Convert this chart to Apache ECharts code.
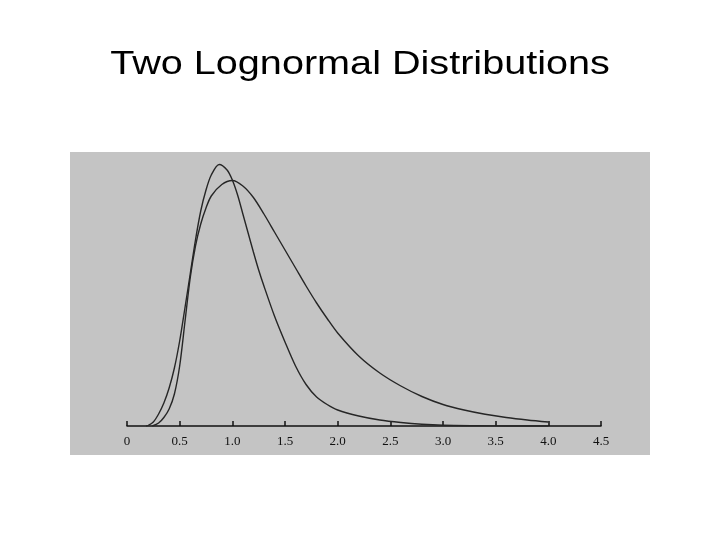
<!DOCTYPE html>
<html>
<head>
<meta charset="utf-8">
<script src="https://cdn.jsdelivr.net/npm/echarts@6/dist/echarts.min.js"></script>
<style>html,body{margin:0;padding:0;background:#fff}#c{width:720px;height:540px}</style>
</head>
<body>
<div id="c"></div>
<script>
const titleText = 'Two Lognormal Distributions';
const tickValues = [0, 0.5, 1.0, 1.5, 2.0, 2.5, 3.0, 3.5, 4.0, 4.5];
const tickLabels = ['0', '0.5', '1.0', '1.5', '2.0', '2.5', '3.0', '3.5', '4.0', '4.5'];

// Narrow (taller) lognormal curve
const narrowX = [0.18, 0.20, 0.25, 0.30, 0.35, 0.40, 0.45, 0.50, 0.55, 0.60, 0.65, 0.70, 0.75, 0.80, 0.875, 0.95, 1.00, 1.05, 1.10, 1.15, 1.20, 1.25, 1.30, 1.40, 1.50, 1.60, 1.70, 1.80, 1.90, 2.00, 2.20, 2.40, 2.60, 2.80, 3.00, 3.30, 3.60, 4.00];
const narrowY = [0, 0.002, 0.016, 0.048, 0.092, 0.152, 0.232, 0.34, 0.472, 0.608, 0.744, 0.86, 0.944, 1.004, 1.046, 1.024, 0.984, 0.924, 0.848, 0.772, 0.696, 0.624, 0.56, 0.44, 0.336, 0.24, 0.166, 0.116, 0.086, 0.064, 0.04, 0.024, 0.014, 0.007, 0.003, 0.001, 0, 0];

// Wide (long-tailed) lognormal curve
const wideX = [0.24, 0.30, 0.35, 0.40, 0.45, 0.50, 0.55, 0.60, 0.65, 0.70, 0.75, 0.80, 0.90, 1.00, 1.10, 1.20, 1.30, 1.40, 1.50, 1.60, 1.70, 1.80, 1.90, 2.00, 2.20, 2.40, 2.60, 2.80, 3.00, 3.20, 3.40, 3.60, 3.80, 4.00];
const wideY = [0, 0.012, 0.034, 0.068, 0.128, 0.24, 0.416, 0.592, 0.72, 0.808, 0.872, 0.92, 0.966, 0.982, 0.96, 0.914, 0.848, 0.776, 0.704, 0.632, 0.56, 0.492, 0.43, 0.372, 0.28, 0.212, 0.16, 0.118, 0.086, 0.064, 0.047, 0.034, 0.024, 0.016];

const chart = echarts.init(document.getElementById('c'), null, {renderer: 'canvas'});
const lineStyle = {color: '#262626', width: 1.4};
chart.setOption({
  backgroundColor: '#ffffff',
  animation: false,
  graphic: [
    {type: 'rect', z: -10, shape: {x: 70, y: 152, width: 580, height: 303}, style: {fill: '#c4c4c4'}},
    {type: 'text', x: 360, y: 65, scaleX: 1.165, z: 10,
     style: {text: titleText, fontSize: 34, fontFamily: 'Liberation Sans, Arial, sans-serif', fill: '#000', textAlign: 'center', textVerticalAlign: 'middle', verticalAlign: 'middle'}}
  ],
  grid: {left: 127, right: 119, top: 126, bottom: 114},
  xAxis: {
    type: 'value', min: 0, max: 4.5, interval: 0.5,
    axisLine: {show: true, lineStyle: {color: '#111', width: 1.5}},
    axisTick: {show: true, inside: true, length: 5, lineStyle: {color: '#111', width: 1.5}},
    axisLabel: {
      show: true, margin: 9, fontSize: 13, color: '#111',
      fontFamily: 'Liberation Serif, Times New Roman, serif',
      showMinLabel: true, showMaxLabel: true,
      formatter: function (v) {
        const i = tickValues.findIndex(t => Math.abs(t - v) < 1e-6);
        return i >= 0 ? tickLabels[i] : '';
      }
    },
    splitLine: {show: false}
  },
  yAxis: {type: 'value', min: 0, max: 1.2, show: false, splitLine: {show: false}},
  series: [
    {name: 'Narrow', type: 'line', data: narrowX.map((x, i) => [x, narrowY[i]]), symbol: 'none', smooth: 0.3, lineStyle: lineStyle, z: 3},
    {name: 'Wide', type: 'line', data: wideX.map((x, i) => [x, wideY[i]]), symbol: 'none', smooth: 0.3, lineStyle: lineStyle, z: 3}
  ]
});
</script>
</body>
</html>
